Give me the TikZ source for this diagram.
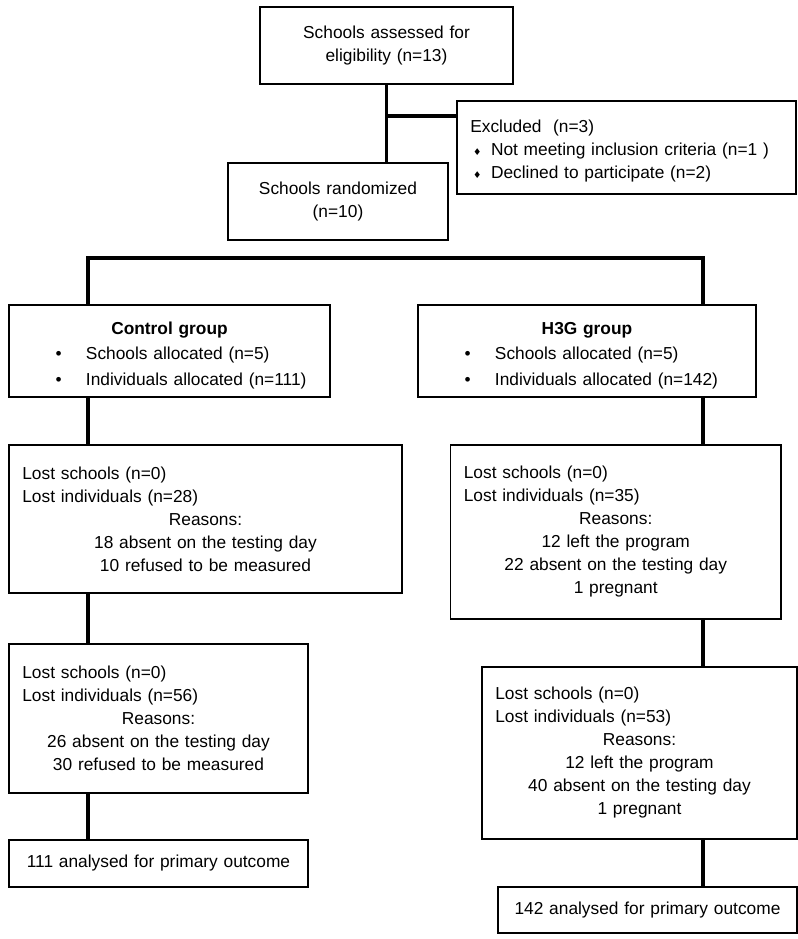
\documentclass[tikz,border=0pt]{standalone}
\usepackage{fontspec}
\setmainfont{Liberation Sans}
\newfontfamily\symfont{DejaVu Sans}
\newcommand{\bitem}[1]{\hspace*{25pt}\makebox[22.75pt][l]{\textbullet}#1}
\newcommand{\ditem}[1]{\hspace*{2pt}\makebox[13.5pt][l]{\symfont\fontsize{7}{7}\selectfont ♦}#1}
\begin{document}
\begin{tikzpicture}[x=0.75pt,y=-0.75pt,
  box/.style={draw, line width=1pt, inner xsep=10pt, inner ysep=0pt, align=left, font=\fontsize{13}{17.25}\selectfont},
  link/.style={line width=2.3pt}]
  \useasboundingbox (0,0) rectangle (798,939);
  \node[box, align=center, text width=169.75pt, minimum height=57.75pt] (assess) at (386.5,45.5) {Schools assessed for\\eligibility (n=13)};
  \node[box, text width=234.25pt, minimum height=69.75pt] (excl) at (626.5,147.5) {\rule{0pt}{15pt}Excluded\ \ (n=3)\\\ditem{Not meeting inclusion criteria (n=1 )}\\\ditem{Declined to participate (n=2)}};
  \node[box, align=center, text width=145pt, minimum height=57.75pt] (rand) at (338,201.5) {Schools randomized\\(n=10)};
  \node[box, text width=220.75pt, minimum height=69pt] (ctrl) at (169.5,351) {{\centering\bfseries\rule{0pt}{16pt}Control group\par}\vspace{1pt}\bitem{Schools allocated (n=5)}\\[2.25pt]\bitem{Individuals allocated (n=111)}};
  \node[box, text width=233.5pt, minimum height=69pt] (h3g) at (587,351) {{\centering\bfseries\rule{0pt}{16pt}H3G group\par}\vspace{1pt}\bitem{Schools allocated (n=5)}\\[2.25pt]\bitem{Individuals allocated (n=142)}};
  \node[box, text width=274.75pt, minimum height=111pt] (lostA) at (205.5,519) {Lost schools (n=0)\\Lost individuals (n=28)\par{\centering Reasons:\\18 absent on the testing day\\10 refused to be measured\par}};
  \node[box, text width=227.9pt, minimum height=130.5pt] (lostB) at (615.75,532) {Lost schools (n=0)\\Lost individuals (n=35)\par{\centering Reasons:\\12 left the program\\22 absent on the testing day\\1 pregnant\par}};
  \node[box, text width=204.25pt, minimum height=111.75pt] (lostC) at (158.5,718.5) {Lost schools (n=0)\\Lost individuals (n=56)\par{\centering Reasons:\\26 absent on the testing day\\30 refused to be measured\par}};
  \node[box, text width=216.25pt, minimum height=129pt] (lostD) at (639.5,753) {Lost schools (n=0)\\Lost individuals (n=53)\par{\centering Reasons:\\12 left the program\\40 absent on the testing day\\1 pregnant\par}};
  \node[box, align=center, text width=204.25pt, minimum height=35.25pt] (anaA) at (158.5,863.5) {111 analysed for primary outcome};
  \node[box, align=center, text width=204.25pt, minimum height=34.5pt] (anaB) at (647.5,910) {142 analysed for primary outcome};
  \coordinate (lsplit) at (88,258);
  \coordinate (rsplit) at (703,258);
  \coordinate (xjoin) at (386.5,116);
  \draw[link] (assess.south) -- (assess.south |- rand.north);
  \draw[link] (xjoin) -- (xjoin -| excl.west);
  \draw[link] (ctrl.north -| lsplit) -- (lsplit) -- (rsplit) -- (h3g.north -| rsplit);
  \draw[link] (ctrl.south -| lsplit) -- (lostA.north -| lsplit);
  \draw[link] (lostA.south -| lsplit) -- (lostC.north -| lsplit);
  \draw[link] (lostC.south -| lsplit) -- (anaA.north -| lsplit);
  \draw[link] (h3g.south -| rsplit) -- (lostB.north -| rsplit);
  \draw[link] (lostB.south -| rsplit) -- (lostD.north -| rsplit);
  \draw[link] (lostD.south -| rsplit) -- (anaB.north -| rsplit);
\end{tikzpicture}
\end{document}
